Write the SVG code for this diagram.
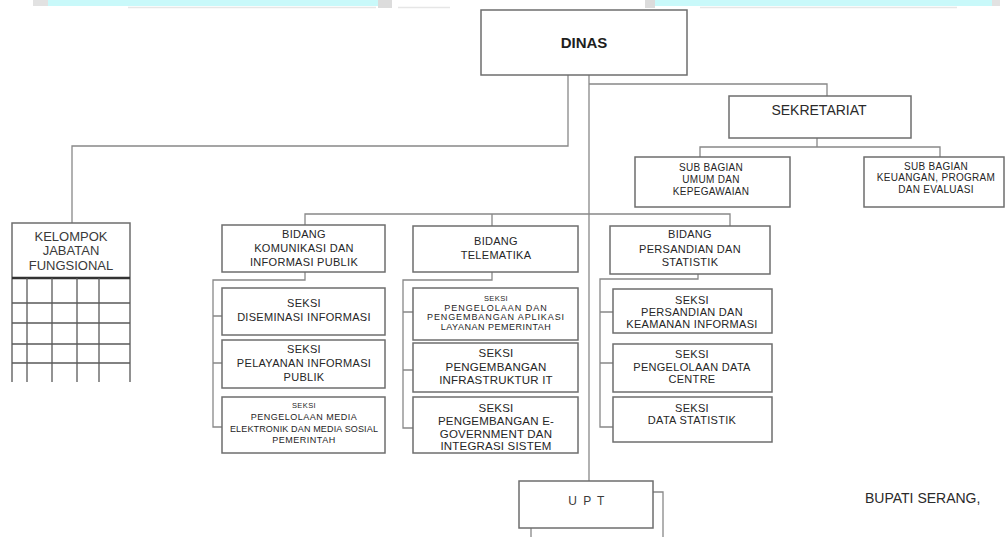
<svg xmlns="http://www.w3.org/2000/svg" width="1007" height="537" viewBox="0 0 1007 537">
<style>
.box{fill:#fff;stroke:#6e6e6e;stroke-width:1.5}
.con{fill:none;stroke:#888;stroke-width:1.3}
.grid{fill:none;stroke:#5a5a5a;stroke-width:1.3}
text{font-family:"Liberation Sans",Arial,sans-serif;fill:#262626;text-anchor:middle}
.d{font-size:15px;font-weight:bold;fill:#1e1e1e}
.h{font-size:14px;fill:#2a2a2a}
.k{font-size:13px;fill:#3a3a3a}
.m{font-size:11px;letter-spacing:0.3px}
.L{font-size:11.5px;letter-spacing:0.2px}
.sb{font-size:10px;letter-spacing:0.3px}
.s{font-size:9px;letter-spacing:0.5px}
.xs{font-size:7.5px;letter-spacing:0.4px}
</style>
<rect width="1007" height="537" fill="#fff"/>
<g id="banner">
<rect x="33" y="0" width="15" height="6" fill="#e2e2e2"/>
<rect x="48" y="0" width="330" height="6" fill="#c9f9fa"/>
<rect x="378" y="0" width="14" height="8" fill="#dcdcdc"/>
<rect x="645" y="0" width="10" height="8" fill="#dcdcdc"/>
<rect x="655" y="0" width="337" height="6" fill="#c9f9fa"/>
<rect x="992" y="0" width="8" height="6" fill="#e2e2e2"/>
<path d="M128,7.5H376M398,7.5H450M700,7.5H957" stroke="#e6e6e6" stroke-width="1.5"/>
</g>
<g id="connectors" class="con">
<path d="M568,75V146H72V223"/>
<path d="M589,75V481"/>
<path d="M589,84H827V96"/>
<path d="M817,138V147M700,157V147H940V157"/>
<path d="M305,225V214H730V226M492,214V226"/>
<path d="M305,272V280H213V427H222M213,316H222M213,363H222"/>
<path d="M492,272V280H403V428H413M403,312H413M403,370H413"/>
<path d="M698,274V279H600V427H613M600,312H613M600,363H613"/>
<path d="M653,492H663V537M531,528V537"/>
</g>
<g id="dinas">
<rect class="box" x="481" y="10" width="206" height="65"/>
<text class="d" x="584" y="48">DINAS</text>
</g>
<g id="sekretariat">
<rect class="box" x="729" y="96" width="182" height="42"/>
<text class="h" x="819" y="115">SEKRETARIAT</text>
</g>
<g id="subbag-umum">
<rect class="box" x="635" y="157" width="155" height="50"/>
<text class="sb" x="711" y="170.5">SUB BAGIAN</text>
<text class="sb" x="711" y="182.5">UMUM DAN</text>
<text class="sb" x="711" y="194.5">KEPEGAWAIAN</text>
</g>
<g id="subbag-keuangan">
<rect class="box" x="864" y="157" width="140" height="50"/>
<text class="sb" x="936" y="169.5">SUB BAGIAN</text>
<text class="sb" x="936" y="181">KEUANGAN, PROGRAM</text>
<text class="sb" x="936" y="192.5">DAN EVALUASI</text>
</g>
<g id="kelompok">
<path class="box" d="M12,382V223H130V382"/>
<text class="k" x="71" y="241">KELOMPOK</text>
<text class="k" x="71" y="255">JABATAN</text>
<text class="k" x="71" y="270">FUNGSIONAL</text>
<path d="M12,278H130" stroke="#333" stroke-width="2.5"/>
<path class="grid" d="M12,303H130M12,323H130M12,344H130M12,363H130M27,278V382M52,278V382M77,278V382M99,278V382"/>
</g>
<g id="bidang-kominfo">
<rect class="box" x="222" y="225" width="163" height="47"/>
<text class="m" x="304" y="238">BIDANG</text>
<text class="m" x="304" y="252">KOMUNIKASI DAN</text>
<text class="m" x="304" y="266">INFORMASI PUBLIK</text>
</g>
<g id="seksi-diseminasi">
<rect class="box" x="222" y="288" width="163" height="47"/>
<text class="m" x="304" y="307">SEKSI</text>
<text class="m" x="304" y="321">DISEMINASI INFORMASI</text>
</g>
<g id="seksi-pelayanan">
<rect class="box" x="222" y="340" width="163" height="48"/>
<text class="m" x="304" y="353">SEKSI</text>
<text class="m" x="304" y="367">PELAYANAN INFORMASI</text>
<text class="m" x="304" y="381">PUBLIK</text>
</g>
<g id="seksi-media">
<rect class="box" x="222" y="397" width="163" height="56"/>
<text class="xs" x="304" y="408">SEKSI</text>
<text class="s" x="304" y="419.5">PENGELOLAAN MEDIA</text>
<text class="s" x="304" y="432" style="letter-spacing:0.15px">ELEKTRONIK DAN MEDIA SOSIAL</text>
<text class="s" x="304" y="443">PEMERINTAH</text>
</g>
<g id="bidang-telematika">
<rect class="box" x="413" y="226" width="165" height="46"/>
<text class="m" x="496" y="245">BIDANG</text>
<text class="m" x="496" y="259">TELEMATIKA</text>
</g>
<g id="seksi-aplikasi">
<rect class="box" x="413" y="288" width="165" height="52"/>
<text class="xs" x="496" y="301">SEKSI</text>
<text class="s" x="496" y="310.5" style="letter-spacing:1px">PENGELOLAAN DAN</text>
<text class="s" x="496" y="320" style="letter-spacing:0.9px">PENGEMBANGAN  APLIKASI</text>
<text class="s" x="496" y="329.5">LAYANAN PEMERINTAH</text>
</g>
<g id="seksi-infrastruktur">
<rect class="box" x="413" y="343" width="165" height="49"/>
<text class="L" x="496" y="357">SEKSI</text>
<text class="L" x="496" y="371">PENGEMBANGAN</text>
<text class="L" x="496" y="384">INFRASTRUKTUR IT</text>
</g>
<g id="seksi-egov">
<rect class="box" x="413" y="397" width="165" height="56"/>
<text class="L" x="496" y="412">SEKSI</text>
<text class="L" x="496" y="425">PENGEMBANGAN E-</text>
<text class="L" x="496" y="437.5">GOVERNMENT DAN</text>
<text class="L" x="496" y="450">INTEGRASI SISTEM</text>
</g>
<g id="bidang-persandian">
<rect class="box" x="610" y="226" width="160" height="48"/>
<text class="m" x="690" y="238">BIDANG</text>
<text class="m" x="690" y="253">PERSANDIAN DAN</text>
<text class="m" x="690" y="266">STATISTIK</text>
</g>
<g id="seksi-persandian">
<rect class="box" x="613" y="289" width="159" height="44"/>
<text class="m" x="692" y="304">SEKSI</text>
<text class="m" x="692" y="316">PERSANDIAN DAN</text>
<text class="m" x="692" y="328">KEAMANAN INFORMASI</text>
</g>
<g id="seksi-datacentre">
<rect class="box" x="613" y="344" width="159" height="48"/>
<text class="m" x="692" y="358">SEKSI</text>
<text class="m" x="692" y="371">PENGELOLAAN DATA</text>
<text class="m" x="692" y="383">CENTRE</text>
</g>
<g id="seksi-statistik">
<rect class="box" x="613" y="397" width="159" height="45"/>
<text class="m" x="692" y="412">SEKSI</text>
<text class="m" x="692" y="424">DATA STATISTIK</text>
</g>
<g id="upt">
<rect class="box" x="519" y="481" width="134" height="47"/>
<text class="k" x="587" y="505" style="font-size:12px;letter-spacing:1.5px">U P T</text>
</g>
<g id="bupati">
<text class="h" x="865" y="503" style="text-anchor:start">BUPATI SERANG,</text>
</g>
</svg>
